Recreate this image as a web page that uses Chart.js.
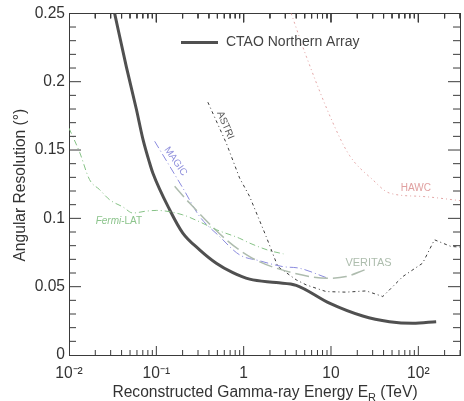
<!DOCTYPE html>
<html>
<head>
<meta charset="utf-8">
<script src="https://cdn.jsdelivr.net/npm/chart.js@4"></script>
</head>
<body style="margin:0; background:#fff">
<canvas id="resChart" width="464" height="401"></canvas>
<script>
// axis ticks
var xTickValues = [0.01, 0.1, 1, 10, 100];
var xTickLabels = ['10\u207B\u00B2', '10\u207B\u00B9', '1', '10', '10\u00B2'];
var yTickLabels = ['0', '0.05', '0.1', '0.15', '0.2', '0.25'];

// energy (TeV) and angular resolution (deg)
var ctaoEnergy = [0.0333, 0.0453, 0.059, 0.0702, 0.0838, 0.0914, 0.142, 0.201, 0.313, 0.486, 0.752, 1.17, 2.36, 4.0, 9.6, 23.1, 46.7, 86.3, 160];
var ctaoRes    = [0.25, 0.211, 0.18, 0.158, 0.1405, 0.133, 0.1063, 0.0892, 0.077, 0.0672, 0.0603, 0.0555, 0.053, 0.051, 0.0379, 0.0285, 0.0244, 0.0232, 0.0244];

var fermiEnergy = [0.01, 0.0133, 0.0172, 0.0224, 0.0292, 0.0415, 0.054, 0.075, 0.1, 0.2, 0.3, 0.49, 0.89, 1.17, 1.95, 2.85];
var fermiRes    = [0.166, 0.148, 0.1283, 0.121, 0.1136, 0.1083, 0.1039, 0.1052, 0.1058, 0.1026, 0.098, 0.0916, 0.0855, 0.0819, 0.0765, 0.074];

var magicEnergy = [0.0957, 0.201, 0.313, 0.53, 0.898, 1.51, 2.8, 4.35, 9.2];
var magicRes    = [0.1564, 0.1222, 0.1014, 0.0867, 0.0733, 0.069, 0.0647, 0.0635, 0.0562];

var veritasEnergy = [0.162, 0.24, 0.633, 1.17, 2.37, 9.6, 14.9, 24.3];
var veritasRes    = [0.1234, 0.1112, 0.0843, 0.072, 0.0635, 0.0562, 0.0574, 0.0623];

var astriEnergy = [0.389, 0.633, 0.898, 1.17, 1.81, 2.46, 4.0, 5.2, 8.8, 14.9, 25.3, 39.2, 66.4, 112, 153, 237, 300];
var astriRes    = [0.185, 0.155, 0.1295, 0.116, 0.0867, 0.0647, 0.055, 0.0513, 0.0464, 0.046, 0.0469, 0.0428, 0.0574, 0.0672, 0.0843, 0.0794, 0.079];

var hawcEnergy = [3.5, 5.2, 10.5, 16.3, 30, 46.7, 112, 300];
var hawcRes    = [0.25, 0.2187, 0.17, 0.146, 0.1283, 0.1185, 0.116, 0.113];

var FONT = "'Liberation Sans', Arial, sans-serif";
var AXIS = '#3a3a3a';
var X_MIN = 0.01, X_MAX = 300, Y_MIN = 0, Y_MAX = 0.25;
var PLOT_W = 391, PLOT_H = 342; // chart area size fixed by the layout below

function pts(xs, ys) {
  return xs.map(function (v, i) { return { x: v, y: ys[i] }; });
}

// inward tick marks as short segments, broken by null points
function tickSegments() {
  var out = [];
  var dy = function (px) { return px * (Y_MAX - Y_MIN) / PLOT_H; };
  var fx = function (px) { return Math.pow(10, px * Math.log10(X_MAX / X_MIN) / PLOT_W); };
  for (var d = -2; d <= 2; d++) {
    for (var m = 1; m <= 9; m++) {
      var v = m * Math.pow(10, d);
      if (v > X_MAX) break;
      var len = m === 1 ? 9 : 5;
      out.push({ x: v, y: Y_MIN }, { x: v, y: Y_MIN + dy(len) }, { x: v, y: null });
      out.push({ x: v, y: Y_MAX }, { x: v, y: Y_MAX - dy(len) }, { x: v, y: null });
    }
  }
  for (var k = 1; k < 25; k++) {
    var r = k / 100;
    var ln = k % 5 === 0 ? 12 : 7;
    out.push({ x: X_MIN, y: r }, { x: X_MIN * fx(ln), y: r }, { x: X_MIN, y: null });
    out.push({ x: X_MAX / fx(ln), y: r }, { x: X_MAX, y: r }, { x: X_MAX, y: null });
  }
  return out;
}

// in-plot labels, anchored in data coordinates
var seriesLabels = [
  { parts: [['Fermi', 'italic '], ['-LAT', '']], e: 0.0202, r: 0.0977, angle: 0, align: 'left', color: '#8cc48c', size: 10 },
  { parts: [['MAGIC', '']], e: 0.166, r: 0.1417, angle: 55, align: 'center', color: '#9090dc', size: 10 },
  { parts: [['ASTRI', '']], e: 0.616, r: 0.1681, angle: 67, align: 'center', color: '#555555', size: 10 },
  { parts: [['HAWC', '']], e: 93.9, r: 0.1217, angle: 0, align: 'center', color: '#e0a0a0', size: 10 },
  { parts: [['VERITAS', '']], e: 26.9, r: 0.0674, angle: 0, align: 'center', color: '#adbdad', size: 11 }
];

var labelPlugin = {
  id: 'seriesText',
  afterDatasetsDraw: function (chart) {
    var ctx = chart.ctx, xs = chart.scales.x, ys = chart.scales.y;
    seriesLabels.forEach(function (lb) {
      ctx.save();
      ctx.translate(xs.getPixelForValue(lb.e), ys.getPixelForValue(lb.r));
      ctx.rotate(lb.angle * Math.PI / 180);
      ctx.fillStyle = lb.color;
      ctx.textBaseline = 'middle';
      ctx.textAlign = 'left';
      var total = 0;
      lb.parts.forEach(function (p) {
        ctx.font = p[1] + lb.size + 'px ' + FONT;
        total += ctx.measureText(p[0]).width;
      });
      var cx = lb.align === 'center' ? -total / 2 : 0;
      lb.parts.forEach(function (p) {
        ctx.font = p[1] + lb.size + 'px ' + FONT;
        ctx.fillText(p[0], cx, 0);
        cx += ctx.measureText(p[0]).width;
      });
      ctx.restore();
    });
  }
};

// axis titles and legend
var textPlugin = {
  id: 'axisText',
  afterDraw: function (chart) {
    var ctx = chart.ctx, a = chart.chartArea;
    ctx.save();
    ctx.fillStyle = '#333';
    var fs = '15.6px ' + FONT, fsub = '11px ' + FONT;
    var t1 = 'Reconstructed Gamma-ray Energy E', t2 = 'R', t3 = ' (TeV)';
    ctx.font = fs;
    var w1 = ctx.measureText(t1).width, w3 = ctx.measureText(t3).width;
    ctx.font = fsub;
    var w2 = ctx.measureText(t2).width;
    var sx = 265 - (w1 + w2 + w3) / 2, base = 397;
    ctx.textBaseline = 'alphabetic';
    ctx.textAlign = 'left';
    ctx.font = fs;
    ctx.fillText(t1, sx, base);
    ctx.font = fsub;
    ctx.fillText(t2, sx + w1, base + 4);
    ctx.font = fs;
    ctx.fillText(t3, sx + w1 + w2, base);

    ctx.save();
    ctx.translate(21, (a.top + a.bottom) / 2 + 1);
    ctx.rotate(-Math.PI / 2);
    ctx.textAlign = 'center';
    ctx.textBaseline = 'middle';
    ctx.fillText('Angular Resolution (\u00B0)', 0, 0);
    ctx.restore();

    ctx.fillStyle = '#505050';
    ctx.fillRect(181, 41, 37, 3);
    ctx.fillStyle = '#444';
    ctx.font = '14px ' + FONT;
    ctx.textBaseline = 'middle';
    ctx.fillText('CTAO Northern Array', 226, 42);
    ctx.restore();
  }
};

function curve(label, data, color, width, dash, mode) {
  return {
    label: label,
    data: data,
    borderColor: color,
    borderWidth: width,
    borderDash: dash,
    pointRadius: 0,
    fill: false,
    cubicInterpolationMode: mode === 'linear' ? 'default' : 'monotone',
    tension: 0
  };
}

var border = { display: true, color: AXIS, width: 1 };
var noGrid = { display: false, drawTicks: false };

new Chart(document.getElementById('resChart'), {
  type: 'line',
  data: {
    datasets: [
      {
        label: 'ticks',
        data: tickSegments(),
        borderColor: AXIS,
        borderWidth: 1,
        pointRadius: 0,
        spanGaps: false,
        tension: 0,
        fill: false
      },
      curve('HAWC', pts(hawcEnergy, hawcRes), '#e3a6a6', 1, [2, 3, 1, 3]),
      curve('Fermi-LAT', pts(fermiEnergy, fermiRes), '#86c286', 1, [6, 3, 1, 3]),
      curve('VERITAS', pts(veritasEnergy, veritasRes), '#aebcae', 1.5, [14, 5]),
      curve('MAGIC', pts(magicEnergy, magicRes), '#8a8ade', 1, [8, 3, 1, 3]),
      curve('ASTRI', pts(astriEnergy, astriRes), '#3c3c3c', 1, [3, 3, 1, 3], 'linear'),
      curve('CTAO Northern Array', pts(ctaoEnergy, ctaoRes), '#505050', 3, [])
    ]
  },
  options: {
    responsive: false,
    animation: false,
    devicePixelRatio: 1,
    layout: { padding: { top: 13, right: 4, left: 0, bottom: 0 } },
    plugins: {
      legend: { display: false },
      tooltip: { enabled: false }
    },
    scales: {
      x: {
        type: 'logarithmic',
        min: X_MIN,
        max: X_MAX,
        grid: noGrid,
        border: border,
        afterBuildTicks: function (s) {
          s.ticks = xTickValues.map(function (v) { return { value: v, major: true }; });
        },
        afterFit: function (s) { s.height = 46; },
        ticks: {
          autoSkip: false,
          maxRotation: 0,
          padding: 9,
          color: '#333',
          font: { family: FONT, size: 15.6 },
          callback: function (v, i) { return xTickLabels[i]; }
        }
      },
      xTop: {
        type: 'logarithmic',
        position: 'top',
        min: X_MIN,
        max: X_MAX,
        grid: noGrid,
        border: border,
        ticks: { display: false }
      },
      y: {
        type: 'linear',
        min: Y_MIN,
        max: Y_MAX,
        grid: noGrid,
        border: border,
        afterFit: function (s) { s.width = 69; },
        ticks: {
          stepSize: 0.05,
          padding: 4,
          color: '#333',
          font: { family: FONT, size: 15.6 },
          callback: function (v, i) { return yTickLabels[i]; }
        }
      },
      yRight: {
        type: 'linear',
        position: 'right',
        min: Y_MIN,
        max: Y_MAX,
        grid: noGrid,
        border: border,
        ticks: { display: false }
      }
    }
  },
  plugins: [labelPlugin, textPlugin]
});
</script>
</body>
</html>
